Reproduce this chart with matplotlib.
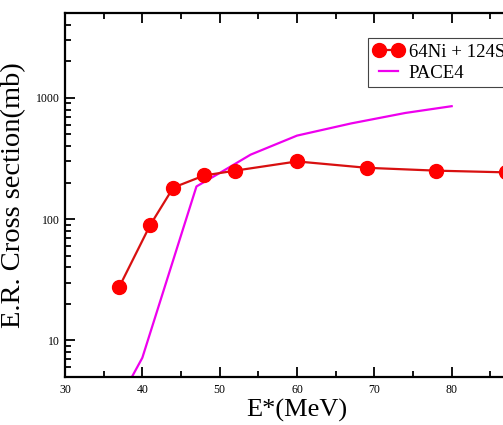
import matplotlib
matplotlib.use("Agg")
import matplotlib.pyplot as plt
from matplotlib.ticker import LogLocator, NullFormatter, FixedLocator, MultipleLocator

plt.rcParams['font.family'] = ['Liberation Serif', 'DejaVu Serif']

# Data
exp_E = [37, 41, 44, 48, 52, 60, 69, 78, 87]
exp_sigma = [27.5, 89, 182, 229, 251, 299, 265, 251, 243]
pace_E = [38, 40, 47, 50, 54, 60, 67, 74, 80]
pace_sigma = [4.2, 7.2, 186, 240, 340, 488, 615, 750, 853]

x_ticks = [30, 40, 50, 60, 70, 80, 90]
y_ticks = [10, 100, 1000]
y_ticklabels = ["10", "100", "1000"]
legend_labels = ["64Ni + 124Sn", "PACE4"]

fig = plt.figure(figsize=(5.03, 4.25), dpi=100)
ax = fig.add_axes([65/503, 1-377/425, (529-65)/503, (377-13)/425])

ax.plot(exp_E, exp_sigma, color='#d81010', lw=1.6, marker='o', ms=10,
        mfc='#ff0000', mec='#ff0000', label=legend_labels[0], zorder=3)
ax.plot(pace_E, pace_sigma, color='#ee00ee', lw=1.6, label=legend_labels[1], zorder=2)

ax.set_yscale('log')
ax.set_xlim(30, 90)
ax.set_ylim(5, 5000)

ax.xaxis.set_major_locator(FixedLocator(x_ticks))
ax.xaxis.set_minor_locator(MultipleLocator(5))
ax.set_yticks(y_ticks)
ax.set_yticklabels(y_ticklabels)
ax.yaxis.set_minor_locator(LogLocator(base=10, subs=range(2, 10)))
ax.yaxis.set_minor_formatter(NullFormatter())

ax.tick_params(which='both', direction='in', top=True, right=False, width=1.3,
               labelsize=8.5)
ax.tick_params(which='major', length=7, pad=4)
ax.tick_params(which='minor', length=4)
ax.tick_params(axis='x', which='major', pad=5)

for s in ax.spines.values():
    s.set_linewidth(1.6)

ax.set_xlabel("E*(MeV)", fontsize=19, labelpad=2)
ax.set_ylabel("E.R. Cross section(mb)", fontsize=20.5, labelpad=7)

leg = fig.legend(loc='upper left', bbox_to_anchor=(367.7/503, 1-38.3/425),
                 borderaxespad=0, fontsize=13.5, numpoints=2, handlelength=1.6,
                 handletextpad=0.3, borderpad=0.3, labelspacing=0.18,
                 fancybox=False, framealpha=1, edgecolor='#444444')
leg.get_frame().set_linewidth(0.8)

fig.savefig("out.png", dpi=100)
